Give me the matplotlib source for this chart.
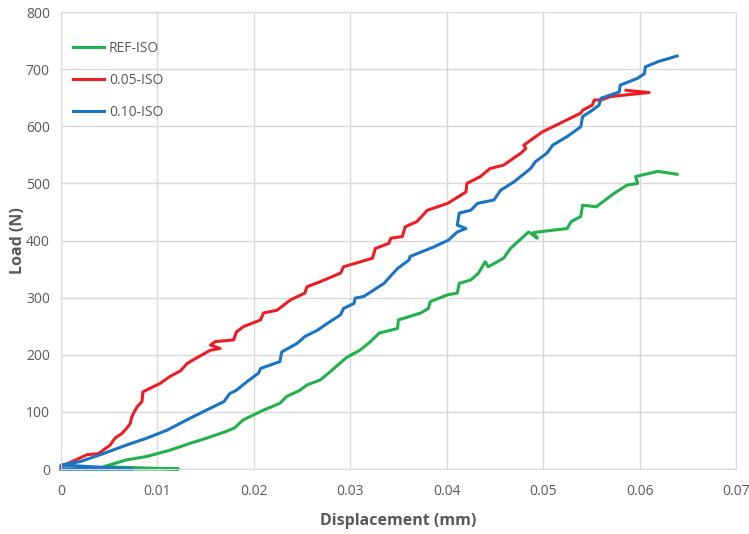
import matplotlib.pyplot as plt

# REF-ISO
ref_x = [0.0, 0.0122, 0.0044, 0.0068, 0.0089, 0.0113, 0.0134, 0.0151, 0.0170, 0.0180,
         0.0189, 0.0210, 0.0227, 0.0234, 0.0248, 0.0255, 0.0269, 0.0279, 0.0296, 0.0310,
         0.0321, 0.0330, 0.0349, 0.0350, 0.0373, 0.0381, 0.0383, 0.0401, 0.0411, 0.0413,
         0.0425, 0.0433, 0.0440, 0.0443, 0.0459, 0.0466, 0.0485, 0.0494, 0.0490, 0.0525,
         0.0529, 0.0539, 0.0541, 0.0555, 0.0574, 0.0587, 0.0598, 0.0596, 0.0619, 0.0639]
ref_y = [0, 0, 4, 16, 22, 33, 45, 54, 65, 72,
         86, 103, 115, 127, 138, 147, 156, 170, 195, 208,
         223, 238, 246, 261, 273, 281, 293, 305, 308, 325,
         331, 343, 363, 354, 369, 386, 415, 404, 414, 421,
         433, 442, 462, 459, 483, 497, 500, 512, 521, 516]

# 0.05-ISO
iso05_x = [0.0, 0.0027, 0.0039, 0.0051, 0.0056, 0.0063, 0.0068, 0.0072, 0.0073, 0.0075,
           0.0079, 0.0084, 0.0085, 0.0092, 0.0103, 0.0113, 0.0124, 0.0131, 0.0137, 0.0155,
           0.0165, 0.0155, 0.0160, 0.0179, 0.0182, 0.0189, 0.0207, 0.0210, 0.0224, 0.0238,
           0.0253, 0.0255, 0.0269, 0.0290, 0.0293, 0.0323, 0.0326, 0.0340, 0.0342, 0.0354,
           0.0357, 0.0369, 0.0380, 0.0401, 0.0420, 0.0421, 0.0435, 0.0445, 0.0459, 0.0477,
           0.0482, 0.0480, 0.0499, 0.0510, 0.0539, 0.0541, 0.0551, 0.0553, 0.0560, 0.0570,
           0.0598, 0.0610, 0.0586]
iso05_y = [4, 25, 27, 42, 54, 62, 71, 80, 89, 97,
           109, 118, 135, 141, 150, 162, 172, 185, 191, 208,
           211, 217, 223, 226, 240, 249, 261, 273, 278, 296,
           308, 319, 328, 343, 354, 369, 386, 395, 404, 407,
           424, 433, 453, 465, 485, 500, 512, 526, 532, 553,
           561, 567, 590, 599, 623, 628, 637, 646, 646, 652,
           657, 659, 663]

# 0.10-ISO
iso10_x = [0.0, 0.0075, 0.0, 0.0020, 0.0044, 0.0068, 0.0089, 0.0110, 0.0134, 0.0158,
           0.0169, 0.0175, 0.0182, 0.0193, 0.0205, 0.0207, 0.0227, 0.0229, 0.0245, 0.0253,
           0.0266, 0.0279, 0.0290, 0.0293, 0.0304, 0.0305, 0.0314, 0.0335, 0.0349, 0.0361,
           0.0362, 0.0387, 0.0402, 0.0411, 0.0420, 0.0411, 0.0413, 0.0425, 0.0432, 0.0449,
           0.0456, 0.0470, 0.0487, 0.0492, 0.0504, 0.0510, 0.0525, 0.0539, 0.0541, 0.0551,
           0.0558, 0.0560, 0.0579, 0.0580, 0.0598, 0.0605, 0.0606, 0.0619, 0.0639]
iso10_y = [0, 0, 7, 13, 27, 42, 54, 68, 89, 109,
           118, 132, 138, 153, 168, 176, 188, 205, 220, 232,
           243, 258, 270, 281, 290, 299, 302, 325, 351, 366,
           372, 389, 401, 415, 421, 427, 448, 453, 465, 471,
           488, 503, 526, 538, 553, 567, 582, 599, 617, 628,
           637, 649, 660, 672, 684, 692, 704, 713, 723]

fig = plt.figure(figsize=(7.49, 5.34), dpi=100)
ax = fig.add_axes([0.0814, 0.1217, 0.9012, 0.8558])

ax.plot(ref_x, ref_y, color='#22B14C', lw=2.2, label='REF-ISO', clip_on=False)
ax.plot(iso05_x, iso05_y, color='#EE1D24', lw=2.2, label='0.05-ISO', clip_on=False)
ax.plot(iso10_x, iso10_y, color='#1A73C4', lw=2.2, label='0.10-ISO', clip_on=False)

ax.set_xlim(0, 0.07)
ax.set_ylim(0, 800)
ax.set_xticks([0, 0.01, 0.02, 0.03, 0.04, 0.05, 0.06, 0.07])
ax.set_xticklabels(['0', '0.01', '0.02', '0.03', '0.04', '0.05', '0.06', '0.07'])
ax.set_yticks(range(0, 801, 100))

ax.grid(True, color='#D9D9D9', lw=1)
ax.set_axisbelow(True)
for s in ax.spines.values():
    s.set_color('#D9D9D9')
ax.tick_params(length=0, colors='#595959', labelsize=10)
ax.tick_params(axis='x', pad=11)
ax.tick_params(axis='y', pad=8)
for lab in ax.get_xticklabels() + ax.get_yticklabels():
    lab.set_fontfamily('Open Sans')

ax.set_xlabel('Displacement (mm)', fontsize=11.5, fontweight='bold',
              color='#595959', family='Open Sans')
ax.set_ylabel('Load (N)', fontsize=11.5, fontweight='bold',
              color='#595959', family='Open Sans')
ax.xaxis.set_label_coords(0.5, -0.097)
ax.yaxis.set_label_coords(-0.052, 0.5)

ax.legend(loc='upper left', bbox_to_anchor=(0.0, 0.965), frameon=False,
          handlelength=2.2, labelspacing=1.25, prop={'family': 'Open Sans', 'size': 10},
          labelcolor='#595959', handletextpad=0.35)

fig.savefig('out.png', dpi=100)
